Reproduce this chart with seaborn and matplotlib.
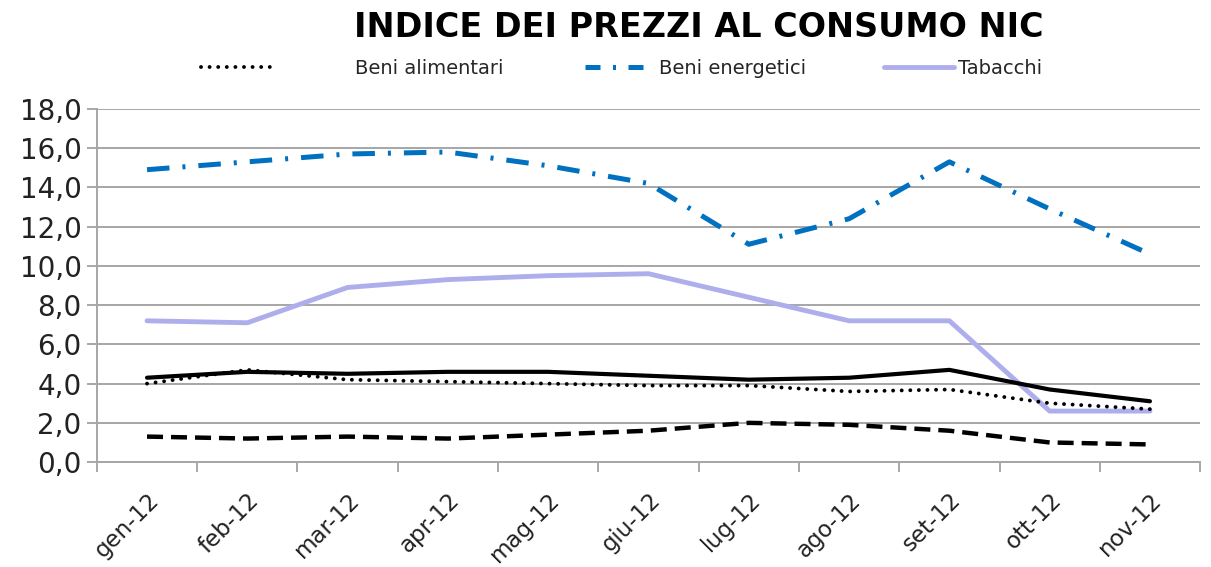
import numpy as np
import pandas as pd
import matplotlib
matplotlib.use('Agg')
import matplotlib.pyplot as plt
import seaborn as sns
from matplotlib.lines import Line2D

# ================================
# 데이터
# ================================
mesi = ['gen-12', 'feb-12', 'mar-12', 'apr-12', 'mag-12', 'giu-12',
        'lug-12', 'ago-12', 'set-12', 'ott-12', 'nov-12']

indice_generale = [4.3, 4.6, 4.5, 4.6, 4.6, 4.4, 4.2, 4.3, 4.7, 3.7, 3.1]
beni_alimentari = [4.0, 4.7, 4.2, 4.1, 4.0, 3.9, 3.9, 3.6, 3.7, 3.0, 2.7]
beni_energetici = [14.9, 15.3, 15.7, 15.8, 15.1, 14.2, 11.1, 12.4, 15.3, 12.9, 10.6]
tabacchi = [7.2, 7.1, 8.9, 9.3, 9.5, 9.6, 8.4, 7.2, 7.2, 2.6, 2.6]
servizi = [1.3, 1.2, 1.3, 1.2, 1.4, 1.6, 2.0, 1.9, 1.6, 1.0, 0.9]

y_ticks = np.arange(0, 18.1, 2.0)
y_tick_labels = [f'{v:.1f}'.replace('.', ',') for v in y_ticks]

df = pd.DataFrame({
    'mese': mesi,
    'Indice generale': indice_generale,
    'Beni alimentari': beni_alimentari,
    'Beni energetici': beni_energetici,
    'Tabacchi': tabacchi,
    'Servizi': servizi,
})

# ================================
# 스타일
# ================================
sns.set_style('white')
plt.rcParams['font.family'] = ['DejaVu Sans']

BLU = '#0070C0'
LILLA = '#AEAEEC'
PUNTINI = (0, (0.01, 2.2))
TRATTO_PUNTO = (0, (4.5, 2.6, 0.6, 2.6))

fig = plt.figure(figsize=(12.11, 5.67), dpi=100)
ax = fig.add_axes([0.080, 0.185, 0.911, 0.623])

x = np.arange(len(mesi))

sns.lineplot(x=x, y=df['Tabacchi'], ax=ax, color=LILLA, linewidth=3.5, zorder=3)
sns.lineplot(x=x, y=df['Servizi'], ax=ax, color='black', linewidth=3.2,
             linestyle=(0, (3.6, 1.8)), zorder=4)
sns.lineplot(x=x, y=df['Beni alimentari'], ax=ax, color='black', linewidth=2.8,
             linestyle=PUNTINI, dash_capstyle='round', zorder=4)
sns.lineplot(x=x, y=df['Indice generale'], ax=ax, color='black', linewidth=3.0, zorder=5)
sns.lineplot(x=x, y=df['Beni energetici'], ax=ax, color=BLU, linewidth=3.6,
             linestyle=TRATTO_PUNTO, zorder=5)

ax.set_xlim(-0.5, len(mesi) - 0.5)
ax.set_ylim(0, 18)
ax.set_yticks(y_ticks)
ax.set_yticklabels(y_tick_labels, fontsize=20, color='#222222')
ax.set_xticks(x)
ax.set_xticklabels(mesi, fontsize=16.5, rotation=45, ha='right',
                   rotation_mode='anchor', color='#222222')
ax.set_xticks(np.arange(-0.5, len(mesi), 1.0), minor=True)
ax.tick_params(axis='x', which='major', length=0, pad=19)
ax.tick_params(axis='x', which='minor', length=7, color='#999999', width=1.2,
               direction='out', bottom=True)
ax.tick_params(axis='y', length=7, color='#999999', width=1.2, direction='out', left=True, pad=4)
ax.set_xlabel('')
ax.set_ylabel('')

ax.grid(True, axis='y', color='#A6A6A6', linewidth=1.4)
ax.grid(False, axis='x')
for lato in ['top', 'right']:
    ax.spines[lato].set_visible(False)
for lato in ['left', 'bottom']:
    ax.spines[lato].set_color('#A6A6A6')
    ax.spines[lato].set_linewidth(1.4)

fig.text(0.577, 0.952, 'INDICE DEI PREZZI AL CONSUMO NIC', ha='center', va='center',
         fontsize=24, fontweight='bold', color='black')

# 범례: 첫 항목은 표시선과 글자 사이 간격이 넓음
leg1 = fig.legend(
    [Line2D([], [], color='black', linewidth=2.8, linestyle=PUNTINI, dash_capstyle='round')],
    ['Beni alimentari'], loc='center left', bbox_to_anchor=(0.166, 0.88),
    frameon=False, fontsize=14, handlelength=3.6, handletextpad=4.3,
    borderaxespad=0, borderpad=0)
fig.legend(
    [Line2D([], [], color=BLU, linewidth=3.6, linestyle=(0, (3, 2.5, 0.6, 2.5))),
     Line2D([], [], color=LILLA, linewidth=3.5)],
    ['Beni energetici', 'Tabacchi'], loc='center left', bbox_to_anchor=(0.483, 0.88),
    ncol=2, frameon=False, fontsize=14, handlelength=3.6, handletextpad=0.2,
    columnspacing=4.0, borderaxespad=0, borderpad=0)

fig.savefig('out.png', dpi=100)
